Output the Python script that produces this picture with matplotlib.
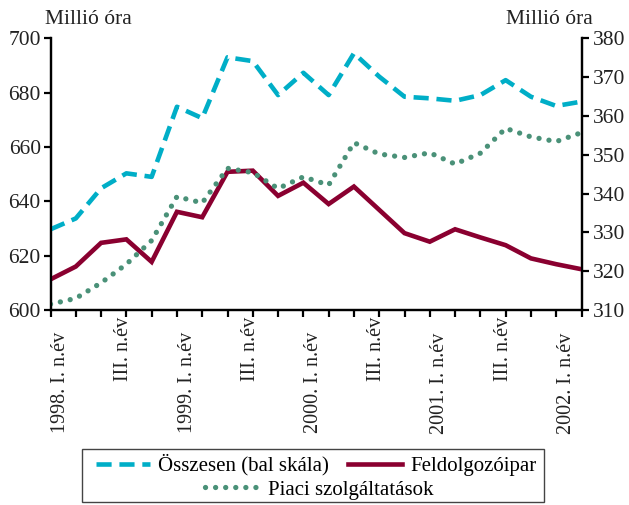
import numpy as np
import matplotlib.pyplot as plt
from matplotlib.patches import Rectangle
from matplotlib.lines import Line2D

plt.rcParams['font.family'] = ['Liberation Serif', 'DejaVu Serif']

# data, one value per tick on the x axis
osszesen = [629.7, 633.7, 644.8, 650.3, 649.0, 674.8, 670.6, 693.0, 691.6, 679.1, 687.3,
            679.1, 694.5, 685.9, 678.5, 677.9, 677.0, 679.1, 684.6, 678.5, 675.1, 676.7]
feldolgozo = [317.9, 321.2, 327.3, 328.2, 322.4, 335.3, 333.9, 345.6, 345.9, 339.4, 342.8,
              337.3, 341.8, 335.8, 329.8, 327.6, 330.8, 328.7, 326.7, 323.3, 321.8, 320.5]
piaci = [311.5, 313.0, 317.0, 321.8, 327.9, 339.2, 337.6, 346.5, 345.4, 341.3, 344.3,
         342.2, 353.1, 350.2, 349.3, 350.5, 347.6, 350.4, 356.8, 354.6, 353.4, 355.7]
x_labels = ['1998. I. n.év', 'III. n.év', '1999. I. n.év', 'III. n.év', '2000. I. n.év',
            'III. n.év', '2001. I. n.év', 'III. n.év', '2002. I. n.év']
left_ticks = [600, 620, 640, 660, 680, 700]
right_ticks = [310, 320, 330, 340, 350, 360, 370, 380]

blue = '#00AEC7'
red = '#8A0030'
green = '#4A9178'
txt = '#222222'

x = np.arange(len(osszesen))

fig = plt.figure(figsize=(6.29, 5.05), dpi=100)
ax = fig.add_axes([50.5 / 629, 1 - 310 / 505, 531 / 629, (310 - 38.3) / 505])
ax2 = ax.twinx()

ax.plot(x, osszesen, color=blue, lw=3.3, linestyle=(0, (3.3, 1.7)), zorder=3)
ax2.plot(x, feldolgozo, color=red, lw=3.3, solid_joinstyle='miter')
ax2.plot(x, piaci, color=green, lw=3.8, linestyle=(0, (0.01, 1.9)),
         dash_capstyle='round')

ax.set_xlim(0, len(x) - 1)
ax.set_ylim(600, 700)
ax2.set_ylim(310, 380)
ax.set_yticks(left_ticks)
ax2.set_yticks(right_ticks)
ax.set_xticks(x)
ax.set_xticklabels([])

for a in (ax, ax2):
    for s in a.spines.values():
        s.set_linewidth(1.6)
    a.spines['top'].set_visible(False)
    a.tick_params(width=1.6, length=5, labelsize=15.5, colors='black', labelcolor=txt)
ax.tick_params(axis='y', pad=2)
ax2.tick_params(axis='y', pad=3)
ax.patch.set_visible(False)

for k, lab in enumerate(x_labels):
    off = 5 if lab.startswith('III') else 16
    ax.annotate(lab, xy=(0.4 + 2.5 * k, 0), xycoords=('data', 'axes fraction'),
                xytext=(0, -off), textcoords='offset points', rotation=90,
                ha='center', va='top', fontsize=14.5, color=txt)

fig.text(45 / 629, 1 - 19 / 505, 'Millió óra', fontsize=15.5, ha='left', va='center', color=txt)
fig.text(593 / 629, 1 - 19 / 505, 'Millió óra', fontsize=15.5, ha='right', va='center', color=txt)

# legend box
fig.patches.append(Rectangle((82 / 629, 1 - 502 / 505), (544 - 82) / 629, 53 / 505,
                             transform=fig.transFigure, fill=False, lw=1, ec='#444444'))
h1 = Line2D([], [], color=blue, lw=3.3, linestyle=(0, (3.3, 1.7)))
h2 = Line2D([], [], color=red, lw=3.3)
h3 = Line2D([], [], color=green, lw=3.8, linestyle=(0, (0.01, 1.9)), dash_capstyle='round')
fig.legend([h1, h2], ['Összesen (bal skála)', 'Feldolgozóipar'], ncol=2, frameon=False,
           loc='center', bbox_to_anchor=(316 / 629, 1 - 465 / 505), fontsize=15,
           handlelength=2.6, handletextpad=0.4, columnspacing=0.9, borderpad=0)
fig.legend([h3], ['Piaci szolgáltatások'], frameon=False,
           loc='center', bbox_to_anchor=(319 / 629, 1 - 490 / 505), fontsize=15,
           handlelength=2.6, handletextpad=0.4, borderpad=0)

fig.savefig('out.png', dpi=100)
